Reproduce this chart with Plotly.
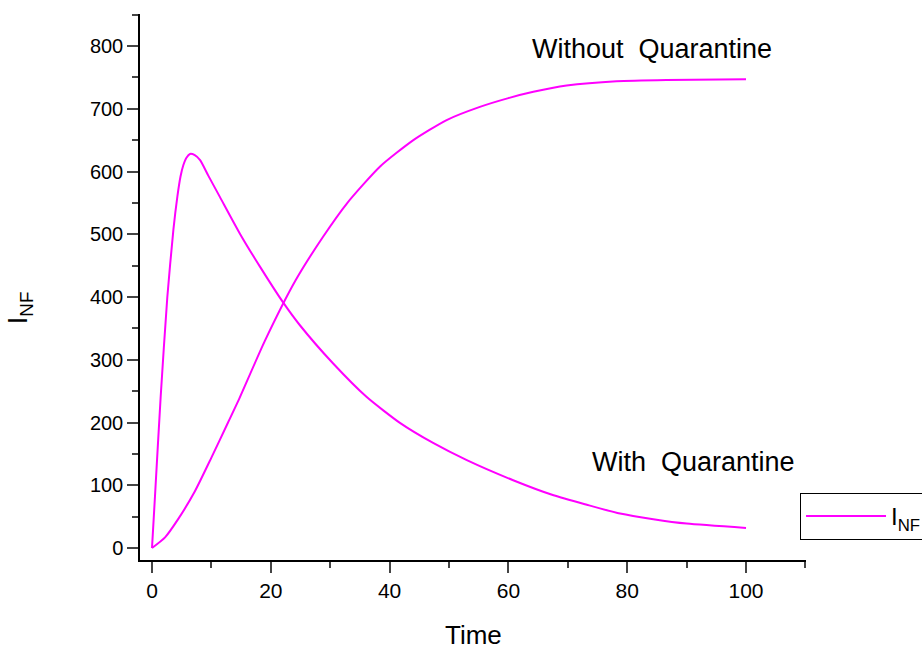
import plotly.graph_objects as go

# With Quarantine curve
t_with = [0, 0.5, 1.46, 2.58, 3.6, 4.27, 4.8, 5.27, 5.8, 6.4, 7.2, 8.1, 9.5, 11.4, 14.8, 18.2, 22.1, 24.9,
          30.5, 36.1, 41.8, 47.4, 53.0, 60.8, 67.6, 73.2, 78.8, 84.4, 90.0, 100]
v_with = [0, 82, 241, 400, 507, 560, 592, 610, 622, 628, 626, 618, 593, 560, 501, 448, 391, 355,
          294, 241, 199, 167, 140, 108, 84, 69, 55, 46, 39, 32]

# Without Quarantine curve
t_without = [0, 2.2, 4.4, 7.2, 10.0, 12.8, 14.5, 19.0, 24.2, 28.8, 32.8, 38.4, 44.0, 49.6,
             55.2, 60.0, 64.2, 69.8, 78.2, 86.6, 100]
v_without = [0, 17, 46, 90, 144, 200, 234, 330, 427, 496, 549, 608, 650, 682,
             703, 717, 727, 737, 744, 746, 747]

x_ticks = [0, 20, 40, 60, 80, 100]
y_ticks = [0, 100, 200, 300, 400, 500, 600, 700, 800]

MAG = "#FF00FF"
FONT = "Liberation Sans, Arial, sans-serif"

fig = go.Figure()
fig.add_trace(go.Scatter(x=t_with, y=v_with, mode="lines",
                         line=dict(color=MAG, width=2, shape="spline", smoothing=0.6),
                         name="I<sub>NF</sub>", showlegend=True))
fig.add_trace(go.Scatter(x=t_without, y=v_without, mode="lines",
                         line=dict(color=MAG, width=2, shape="spline", smoothing=0.6),
                         name="I<sub>NF</sub>", showlegend=False))

fig.add_annotation(x=84.2, y=795, text="Without  Quarantine", showarrow=False,
                   font=dict(size=27, color="black", family=FONT))
fig.add_annotation(x=91.2, y=137, text="With  Quarantine", showarrow=False,
                   font=dict(size=27, color="black", family=FONT))
# axis titles
fig.add_annotation(xref="paper", yref="paper", x=0.5015, y=-0.137, text="Time",
                   xanchor="center", yanchor="middle",
                   showarrow=False, font=dict(size=26, color="black", family=FONT))
fig.add_annotation(xref="paper", yref="paper", x=-0.180, y=0.4615, text="I<sub>NF</sub>",
                   xanchor="center", yanchor="middle",
                   textangle=-90, showarrow=False, font=dict(size=27, color="black", family=FONT))

fig.update_layout(
    width=922, height=650,
    margin=dict(l=140, r=116, t=14, b=90, autoexpand=False),
    paper_bgcolor="white", plot_bgcolor="white",
    font=dict(family=FONT, color="black", size=20),
    legend=dict(x=0.991, y=0.1227, xanchor="left", yanchor="top",
                bordercolor="black", borderwidth=1, bgcolor="white",
                itemwidth=80, entrywidth=110,
                font=dict(size=24)),
    xaxis=dict(range=[-2.02, 110.1], tickvals=x_ticks, ticks="outside", ticklen=11, tickwidth=1.5,
               showline=True, linecolor="black", linewidth=1.5, showgrid=False, zeroline=False,
               tickfont=dict(size=21), automargin=False,
               minor=dict(ticks="outside", ticklen=6, tickwidth=1.5, dtick=10, tick0=0, showgrid=False)),
    yaxis=dict(range=[-19.1, 851], tickvals=y_ticks, ticks="outside", ticklen=11, tickwidth=1.5,
               showline=True, linecolor="black", linewidth=1.5, showgrid=False, zeroline=False,
               tickfont=dict(size=20), automargin=False,
               minor=dict(ticks="outside", ticklen=6, tickwidth=1.5, dtick=50, tick0=0, showgrid=False)),
)

fig.write_html("out.html")
